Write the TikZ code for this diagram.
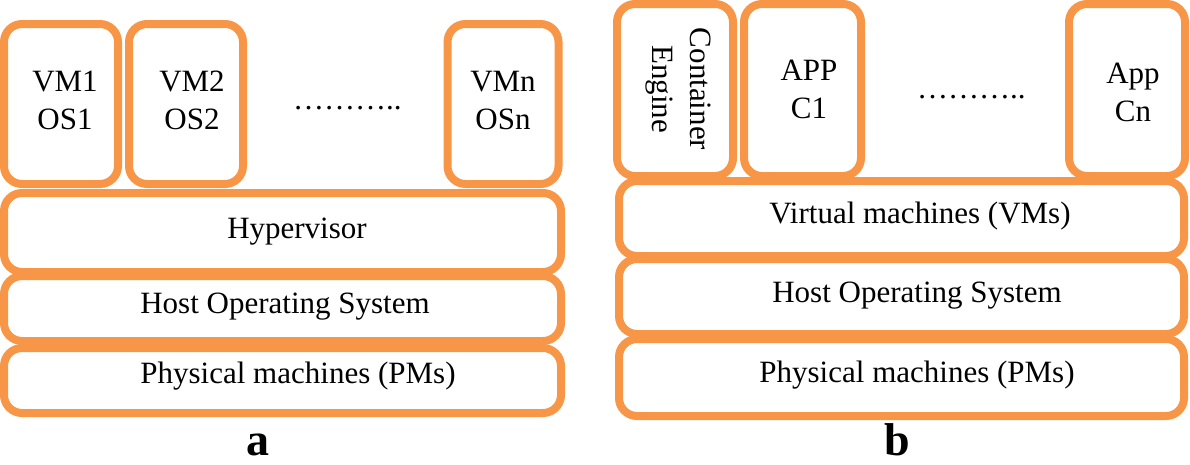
\documentclass[tikz,border=0pt]{standalone}
\usepackage{fontspec}
\setmainfont{Liberation Serif}
\definecolor{boxorange}{RGB}{247,150,70}
\begin{document}
\begin{tikzpicture}[x=1pt,y=-1pt,
  box/.style={draw=boxorange, line width=8pt, rounded corners=18pt, inner sep=0pt},
  txt/.style={font=\fontsize{31}{38}\selectfont, inner sep=0pt, align=center},
  lbl/.style={font=\fontsize{46}{46}\selectfont\bfseries, inner sep=0pt}]
\useasboundingbox (0,0) rectangle (1190,464);

% ---------- panel a ----------
\node[box, minimum width=114pt, minimum height=160pt] (vm1) at (61,104) {};
\node[box, minimum width=114pt, minimum height=160pt] (vm2) at (186,104) {};
\node[box, minimum width=111pt, minimum height=160pt] (vmn) at (503,104) {};
\node[box, minimum width=557pt, minimum height=79pt] (hyp) at (282.5,232.5) {};
\node[box, minimum width=557pt, minimum height=65pt] (hosta) at (282.5,308.5) {};
\node[box, minimum width=557pt, minimum height=65pt] (pma) at (282.5,380.5) {};

\node[txt] (vm1t) at (65,100) {VM1\\OS1};
\node[txt] (vm2t) at (192,100) {VM2\\OS2};
\node[txt] (vmnt) at (503,100) {VMn\\OSn};
\node[txt, anchor=base west] (dotsa) at (293,109) {………..};
\node[txt, anchor=base] (hypt) at (297,238) {Hypervisor};
\node[txt, anchor=base] (hostat) at (285,313) {Host Operating System};
\node[txt, anchor=base] (pmat) at (298,383) {Physical machines (PMs)};
\node[lbl, anchor=base] (la) at (258,455) {a};

% ---------- panel b ----------
\node[box, minimum width=116pt, minimum height=172pt] (ce) at (675,90) {};
\node[box, minimum width=117pt, minimum height=172pt] (c1) at (802.5,90) {};
\node[box, minimum width=116pt, minimum height=172pt] (cn) at (1127,90) {};
\node[box, minimum width=565pt, minimum height=75pt] (vms) at (901.5,218.5) {};
\node[box, minimum width=565pt, minimum height=75pt] (hostb) at (901.5,296.5) {};
\node[box, minimum width=565pt, minimum height=77pt] (pmb) at (901.5,377.5) {};

\node[txt, rotate=-90] (cet) at (678,89) {Container\\Engine};
\node[txt] (c1t) at (809,89) {APP\\C1};
\node[txt] (cnt) at (1133,92.5) {App\\Cn};
\node[txt, anchor=base west] (dotsb) at (917,98) {………..};
\node[txt, anchor=base] (vmst) at (920,223) {Virtual machines (VMs)};
\node[txt, anchor=base] (hostbt) at (917,302) {Host Operating System};
\node[txt, anchor=base] (pmbt) at (917,382) {Physical machines (PMs)};
\node[lbl, anchor=base] (lb) at (897,455) {b};
\end{tikzpicture}
\end{document}
